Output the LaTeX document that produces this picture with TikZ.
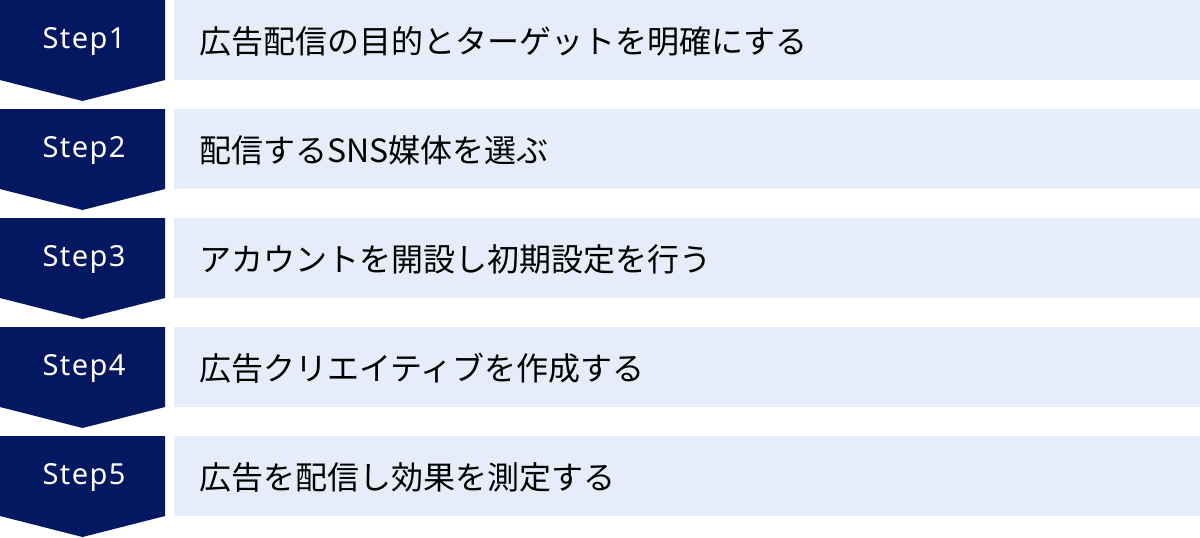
\documentclass[tikz,border=0pt]{standalone}
\usepackage{fontspec}
\usepackage{xcolor}
\usepackage{tikz}
\newfontfamily\jpfont{Noto Sans CJK JP}
\newfontfamily\stepfont[LetterSpace=5]{Noto Sans}
\definecolor{stepnavy}{HTML}{041862}
\definecolor{boxblue}{HTML}{E6ECF9}
\tikzset{
	steplabel/.style={text=white, font=\stepfont\fontsize{29}{29}\selectfont, inner sep=0pt},
	steptext/.style={text=black, font=\jpfont\fontsize{32}{32}\selectfont, anchor=west, inner sep=0pt}
}

\begin{document}
\begin{tikzpicture}[x=1pt, y=1pt]
		\useasboundingbox (0,0) rectangle (1200,-538);
		
		\foreach \i/\txt in {1/広告配信の目的とターゲットを明確にする, 2/配信するSNS媒体を選ぶ, 3/アカウントを開設し初期設定を行う, 4/広告クリエイティブを作成する, 5/広告を配信し効果を測定する}{
			\pgfmathsetmacro{\top}{-(\i-1)*109}
			\fill [boxblue] (174,\top) rectangle (1200,\top-80);
			\fill [stepnavy] (0,\top) -- (165,\top) -- (165,\top-80) -- (82.5,\top-101) -- (0,\top-80) -- cycle;
			\node[steplabel] (step\i) at (84,\top-41) {Step\i};
			\node[steptext] (text\i) at (199,\top-41) {\txt};
		}
	\end{tikzpicture}
\end{document}
